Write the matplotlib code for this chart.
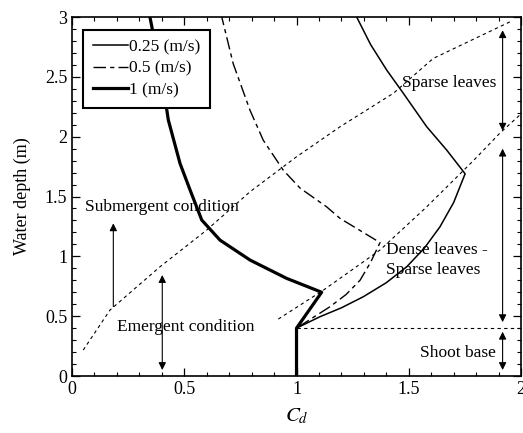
#!/usr/bin/env python3
"""Drag coefficient C_d vs water depth for three flow velocities."""

import matplotlib
matplotlib.use('Agg')
import matplotlib.pyplot as plt
from matplotlib.ticker import MultipleLocator

plt.rcParams['font.family'] = ['Liberation Serif', 'DejaVu Serif']
plt.rcParams['mathtext.fontset'] = 'stix'

# 0.25 m/s (thin solid)
cd_025 = [1.0, 1.0, 1.105, 1.20, 1.298, 1.40, 1.491, 1.57, 1.639, 1.70, 1.751,
          1.669, 1.580, 1.476, 1.402, 1.33, 1.268]
z_025 = [0.0, 0.40, 0.496, 0.57, 0.663, 0.78, 0.913, 1.07, 1.247, 1.45, 1.690,
         1.888, 2.083, 2.362, 2.556, 2.77, 3.0]

# 0.5 m/s (dash-dot)
cd_05 = [1.0, 1.0, 1.149, 1.22, 1.283, 1.33, 1.372, 1.194, 1.134, 1.016, 0.941,
         0.852, 0.793, 0.718, 0.667]
z_05 = [0.0, 0.40, 0.579, 0.68, 0.80, 0.95, 1.115, 1.317, 1.414, 1.57, 1.72,
        1.97, 2.22, 2.61, 3.0]

# 1 m/s (thick solid)
cd_1 = [1.0, 1.0, 1.112, 0.956, 0.793, 0.659, 0.578, 0.526, 0.481, 0.429, 0.40, 0.347]
z_1 = [0.0, 0.40, 0.700, 0.816, 0.969, 1.136, 1.303, 1.554, 1.777, 2.139, 2.50, 3.0]

# boundary lines (dotted)
sub_x = [0.05, 0.169, 0.392, 0.60, 0.793, 1.0, 1.194, 1.431, 1.609, 1.951]
sub_y = [0.217, 0.551, 0.913, 1.22, 1.54, 1.832, 2.083, 2.362, 2.654, 2.96]
dense_x = [0.919, 1.12, 1.372, 1.58, 1.788, 1.906, 2.0]
dense_y = [0.476, 0.718, 1.053, 1.414, 1.80, 2.03, 2.19]
base_x = [1.0, 2.0]
base_y = [0.4, 0.4]

fig = plt.figure(figsize=(5.23, 4.33), dpi=100)
ax = fig.add_axes([0.1377, 0.1316, 0.8585, 0.8291])

ax.plot(cd_025, z_025, color='black', lw=1.1, label='0.25 (m/s)')
ax.plot(cd_05, z_05, color='black', lw=1.0, linestyle=(0, (9, 3, 3, 3)), label='0.5 (m/s)')
ax.plot(cd_1, z_1, color='black', lw=2.3, label='1 (m/s)')

dot = dict(color='black', lw=0.8, linestyle=(0, (3, 3)))
ax.plot(sub_x, sub_y, **dot)
ax.plot(dense_x, dense_y, **dot)
ax.plot(base_x, base_y, **dot)

# annotations
fs = 12.5
both = dict(arrowstyle='<|-|>', color='black', lw=0.8, mutation_scale=11, shrinkA=0, shrinkB=0)
one = dict(arrowstyle='-|>', color='black', lw=0.8, mutation_scale=11, shrinkA=0, shrinkB=0)
ax.annotate('', xy=(1.918, 2.89), xytext=(1.918, 2.05), arrowprops=both)
ax.annotate('', xy=(1.918, 1.90), xytext=(1.918, 0.45), arrowprops=both)
ax.annotate('', xy=(1.918, 0.37), xytext=(1.918, 0.05), arrowprops=both)
ax.annotate('', xy=(0.402, 0.844), xytext=(0.402, 0.05), arrowprops=both)
ax.annotate('', xy=(0.184, 1.276), xytext=(0.184, 0.58), arrowprops=one)

ax.text(1.47, 2.45, 'Sparse leaves', fontsize=fs, va='center', ha='left')
ax.text(1.40, 0.97, 'Dense leaves -\nSparse leaves', fontsize=fs, va='center', ha='left',
        linespacing=1.35)
ax.text(1.89, 0.19, 'Shoot base', fontsize=fs, va='center', ha='right')
ax.text(0.058, 1.415, 'Submergent condition', fontsize=fs, va='center', ha='left')
ax.text(0.2, 0.41, 'Emergent condition', fontsize=fs, va='center', ha='left')

ax.set_xlim(0, 2)
ax.set_ylim(0, 3)
ax.set_xticks([0, 0.5, 1, 1.5, 2])
ax.set_xticklabels(['0', '0.5', '1', '1.5', '2'])
ax.set_yticks([0, 0.5, 1, 1.5, 2, 2.5, 3])
ax.set_yticklabels(['0', '0.5', '1', '1.5', '2', '2.5', '3'])
ax.xaxis.set_minor_locator(MultipleLocator(0.1))
ax.yaxis.set_minor_locator(MultipleLocator(0.1))
ax.tick_params(which='both', direction='in', top=True, right=True, labelsize=13)
ax.tick_params(which='major', length=6, width=0.9)
ax.tick_params(which='minor', length=3, width=0.8)
for s in ax.spines.values():
    s.set_linewidth(1.2)

ax.set_xlabel('$C_d$', fontsize=15, labelpad=6)
ax.set_ylabel('Water depth (m)', fontsize=13, labelpad=10)

leg = ax.legend(loc='upper left', bbox_to_anchor=(0.025, 0.965), fontsize=12.5, frameon=True,
                fancybox=False, framealpha=1, handlelength=2.0, handletextpad=0.1,
                borderpad=0.55, labelspacing=0.3, borderaxespad=0)
leg.get_frame().set_edgecolor('black')
leg.get_frame().set_linewidth(1.5)

plt.savefig('out.png', dpi=100)
